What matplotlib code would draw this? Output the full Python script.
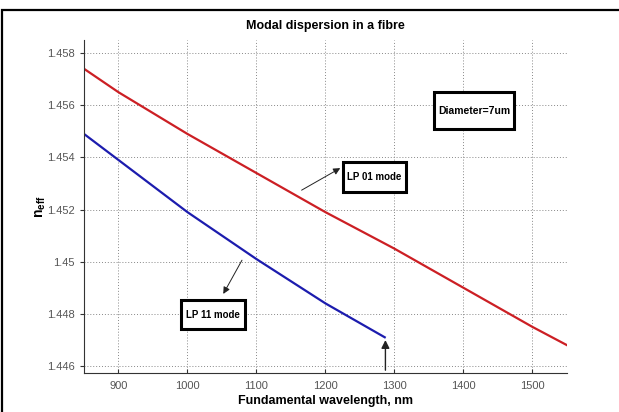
import matplotlib
matplotlib.use("Agg")
import matplotlib.pyplot as plt
from matplotlib.patches import Rectangle

# values
wl_lp01 = [850, 900, 1000, 1100, 1200, 1300, 1400, 1500, 1550]
n_lp01 = [1.4574, 1.4565, 1.4549, 1.4534, 1.4519, 1.4505, 1.4490, 1.4475, 1.4468]
wl_lp11 = [850, 900, 1000, 1100, 1200, 1286]
n_lp11 = [1.4549, 1.4539, 1.4519, 1.4501, 1.4484, 1.4471]
xticks = [900, 1000, 1100, 1200, 1300, 1400, 1500]
yticks = [1.446, 1.448, 1.45, 1.452, 1.454, 1.456, 1.458]
ytick_labels = ["1.446", "1.448", "1.45", "1.452", "1.454", "1.456", "1.458"]

plt.rcParams["font.family"] = ["Liberation Sans", "DejaVu Sans"]

fig = plt.figure(figsize=(6.19, 4.12), dpi=100)
ax = fig.add_axes([0.1357, 0.0947, 0.780, 0.808])

ax.plot(wl_lp01, n_lp01, color="#cc1f24", lw=1.6)
ax.plot(wl_lp11, n_lp11, color="#1c1cae", lw=1.6)

ax.set_xlim(850, 1550)
ax.set_ylim(1.44573, 1.4585)
ax.set_xticks(xticks)
ax.set_yticks(yticks)
ax.set_yticklabels(ytick_labels)
ax.grid(True, linestyle=(0, (1, 2)), color="#888888", lw=0.7)
for s in ("top", "right"):
    ax.spines[s].set_visible(False)
for s in ("left", "bottom"):
    ax.spines[s].set_color("#333333")
ax.tick_params(axis="y", direction="out", length=3, labelsize=8, colors="#333333", labelcolor="#555555")
ax.tick_params(axis="x", direction="in", length=3, labelsize=8, colors="#333333", labelcolor="#555555", pad=6)

ax.set_title("Modal dispersion in a fibre", fontsize=9, fontweight="bold", pad=8)
ax.set_xlabel("Fundamental wavelength, nm", fontsize=9, fontweight="bold", labelpad=3)
ax.set_ylabel(r"n$_\mathregular{eff}$", fontsize=10, fontweight="bold")
ax.yaxis.set_label_coords(-0.075, 0.5)


def label_box(x0, x1, y0, y1, text, fs):
    ax.add_patch(Rectangle((x0, y0), x1 - x0, y1 - y0, fc="white", ec="black",
                           lw=2.2, zorder=5, clip_on=False))
    ax.text((x0 + x1) / 2, (y0 + y1) / 2, text, fontsize=fs, fontweight="bold",
            ha="center", va="center", zorder=6)


arr = dict(arrowstyle="-|>", color="#222222", lw=0.7, mutation_scale=10)

label_box(1357, 1474, 1.45508, 1.4565, "Diameter=7um", 7.5)
ax.annotate("", xy=(1225, 1.45364), xytext=(1162, 1.45269), arrowprops=arr)
label_box(1225, 1317, 1.45268, 1.45381, "LP 01 mode", 7)
ax.annotate("", xy=(1050, 1.44867), xytext=(1081, 1.45015), arrowprops=arr)
label_box(990, 1083, 1.4474, 1.44852, "LP 11 mode", 7)
ax.annotate("", xy=(1287, 1.4471), xytext=(1287, 1.44573),
            arrowprops=dict(arr, lw=1.0, mutation_scale=12))

# outer frame (only left and top edges show in the cropped reference)
fig.patches.append(Rectangle((0.004, -0.1), 1.2, 1.076, transform=fig.transFigure,
                             fill=False, ec="black", lw=1.6))

fig.savefig("out.png", dpi=100)
